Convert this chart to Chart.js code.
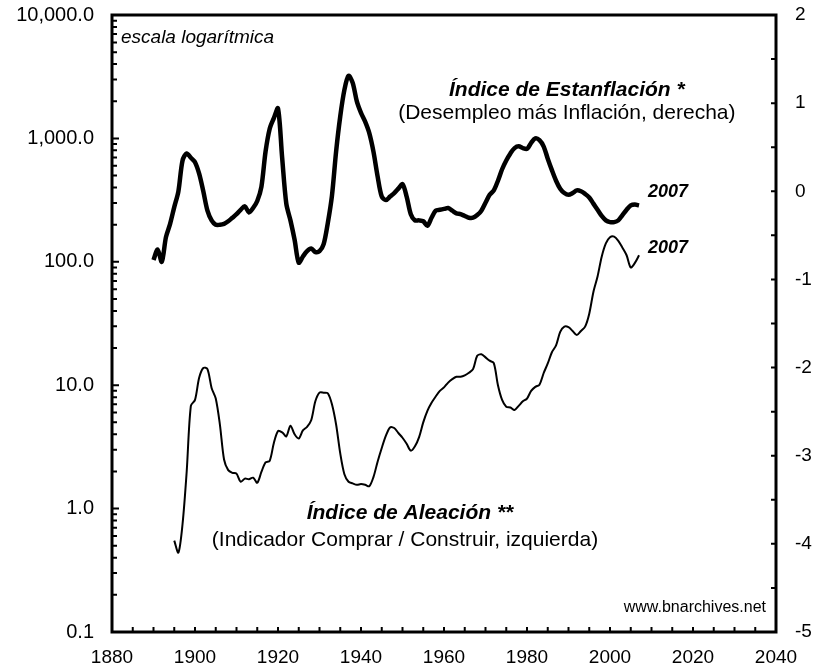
<!DOCTYPE html>
<html>
<head>
<meta charset="utf-8">
<script src="https://cdn.jsdelivr.net/npm/chart.js@4/dist/chart.umd.min.js"></script>
<style>
  body { margin: 0; background: #fff; }
  #caja { width: 816px; height: 670px; }
</style>
</head>
<body>
<div id="caja"><canvas id="myChart"></canvas></div>
<script>
const years = [
  1890,1891,1892,1893,1894,1895,1896,1897,1898,1899,
  1900,1901,1902,1903,1904,1905,1906,1907,1908,1909,
  1910,1911,1912,1913,1914,1915,1916,1917,1918,1919,
  1920,1921,1922,1923,1924,1925,1926,1927,1928,1929,
  1930,1931,1932,1933,1934,1935,1936,1937,1938,1939,
  1940,1941,1942,1943,1944,1945,1946,1947,1948,1949,
  1950,1951,1952,1953,1954,1955,1956,1957,1958,1959,
  1960,1961,1962,1963,1964,1965,1966,1967,1968,1969,
  1970,1971,1972,1973,1974,1975,1976,1977,1978,1979,
  1980,1981,1982,1983,1984,1985,1986,1987,1988,1989,
  1990,1991,1992,1993,1994,1995,1996,1997,1998,1999,
  2000,2001,2002,2003,2004,2005,2006,2007];

// Indice de Estanflacion (eje derecho)
const estanflacion = [
  -0.78,-0.66,-0.80,-0.52,-0.37,-0.18,0.00,0.35,0.43,0.38,
  0.33,0.20,0.00,-0.22,-0.33,-0.38,-0.38,-0.37,-0.34,-0.30,
  -0.26,-0.21,-0.17,-0.24,-0.19,-0.11,0.05,0.45,0.71,0.83,
  0.94,0.38,-0.14,-0.33,-0.55,-0.81,-0.74,-0.68,-0.65,-0.69,
  -0.68,-0.60,-0.36,-0.05,0.45,0.85,1.15,1.31,1.23,1.02,
  0.89,0.79,0.66,0.45,0.17,-0.06,-0.10,-0.06,-0.02,0.03,
  0.08,-0.06,-0.26,-0.33,-0.33,-0.34,-0.39,-0.30,-0.22,-0.21,
  -0.20,-0.19,-0.22,-0.25,-0.26,-0.28,-0.30,-0.30,-0.27,-0.22,
  -0.13,-0.04,0.01,0.12,0.25,0.35,0.43,0.49,0.51,0.49,
  0.48,0.55,0.60,0.58,0.51,0.37,0.24,0.12,0.03,-0.02,
  -0.04,-0.02,0.01,0.00,-0.03,-0.07,-0.14,-0.21,-0.28,-0.33,
  -0.35,-0.35,-0.33,-0.27,-0.21,-0.16,-0.15,-0.16];

// Indice de Aleacion (eje izquierdo, log)
const aleacion = [
  null,null,null,null,null,0.55,0.44,0.75,2.0,6.8,
  7.6,11.5,13.8,13.5,9.5,7.8,4.8,2.5,2.05,1.95,
  1.92,1.65,1.75,1.73,1.78,1.62,1.98,2.37,2.44,3.4,
  4.25,4.15,3.85,4.7,4.0,3.7,4.3,4.6,5.2,7.4,
  8.7,8.7,8.6,7.0,4.8,2.8,1.9,1.65,1.60,1.56,
  1.58,1.56,1.52,1.80,2.4,3.1,3.9,4.55,4.5,4.1,
  3.75,3.35,2.95,3.2,3.8,5.0,6.2,7.2,8.1,9.0,
  9.6,10.5,11.2,11.7,11.7,12.0,12.6,13.5,17.3,17.8,
  16.8,15.8,15.1,10.0,7.6,6.7,6.6,6.3,6.8,7.4,
  7.8,9.0,9.7,10.1,12.5,15.0,18.5,21.0,27.0,29.8,
  29.5,27.5,25.5,27.5,29.8,38,57,76,110,141,
  158,160,148,130,113,90,98,113];

const xLabels = [1880,1900,1920,1940,1960,1980,2000,2020,2040];
const leftLabels = [0.1,1,10,100,1000,10000];
const rightLabels = [-5,-4,-3,-2,-1,0,1,2];

const fuente = "'Liberation Sans', Arial, sans-serif";

// marco y marcas hacia dentro
const marcoPlugin = {
  id: 'marco',
  afterDatasetsDraw(chart) {
    const ctx = chart.ctx, a = chart.chartArea, s = chart.scales;
    ctx.save();
    ctx.strokeStyle = '#000';
    ctx.lineWidth = 2;
    ctx.beginPath();
    s.x.ticks.forEach(t => {
      const px = s.x.getPixelForValue(t.value);
      ctx.moveTo(px, a.bottom); ctx.lineTo(px, a.bottom - 5);
    });
    s.y.ticks.forEach(t => {
      const py = s.y.getPixelForValue(t.value);
      const len = leftLabels.includes(t.value) ? 7 : 5;
      ctx.moveTo(a.left, py); ctx.lineTo(a.left + len, py);
    });
    s.y1.ticks.forEach(t => {
      const py = s.y1.getPixelForValue(t.value);
      ctx.moveTo(a.right, py); ctx.lineTo(a.right - 5, py);
    });
    ctx.stroke();
    ctx.lineWidth = 3;
    ctx.strokeRect(a.left, a.top, a.right - a.left, a.bottom - a.top);

    // textos
    ctx.fillStyle = '#000';
    ctx.textBaseline = 'middle';
    ctx.textAlign = 'left';
    ctx.font = 'italic 19px ' + fuente;
    ctx.fillText('escala logarítmica', a.left + 9, a.top + 23);

    ctx.textAlign = 'center';
    ctx.font = 'bold italic 21px ' + fuente;
    ctx.fillText('Índice de Estanflación *', s.x.getPixelForValue(1989.6), s.y1.getPixelForValue(1.15));
    ctx.font = '21px ' + fuente;
    ctx.fillText('(Desempleo más Inflación, derecha)', s.x.getPixelForValue(1989.6), s.y1.getPixelForValue(0.89));

    ctx.font = 'bold italic 21px ' + fuente;
    ctx.fillText('Índice de Aleación **', s.x.getPixelForValue(1951.8), s.y.getPixelForValue(0.92));
    ctx.font = '21px ' + fuente;
    ctx.fillText('(Indicador Comprar / Construir, izquierda)', s.x.getPixelForValue(1950.6), s.y.getPixelForValue(0.557));

    const n = years.length - 1;
    ctx.textAlign = 'left';
    ctx.font = 'bold italic 18px ' + fuente;
    ctx.fillText('2007', s.x.getPixelForValue(years[n]) + 9, s.y1.getPixelForValue(estanflacion[n]) - 13);
    ctx.fillText('2007', s.x.getPixelForValue(years[n]) + 9, s.y.getPixelForValue(aleacion[n]) - 7);

    ctx.textAlign = 'right';
    ctx.font = '16px ' + fuente;
    ctx.fillText('www.bnarchives.net', a.right - 10, a.bottom - 24);
    ctx.restore();
  }
};

function sinRelleno(scale) {
  scale.paddingTop = 0; scale.paddingBottom = 0;
  scale.paddingLeft = 0; scale.paddingRight = 0;
}

const ctx = document.getElementById('myChart').getContext('2d');
const myChart = new Chart(ctx, {
  type: 'line',
  data: {
    datasets: [{
      label: 'Índice de Estanflación',
      data: years.map((y, i) => ({x: y, y: estanflacion[i]})),
      yAxisID: 'y1',
      borderColor: '#000',
      borderWidth: 4.5,
      pointRadius: 0,
      tension: 0.3
    }, {
      label: 'Índice de Aleación',
      data: years.map((y, i) => ({x: y, y: aleacion[i]})),
      yAxisID: 'y',
      borderColor: '#000',
      borderWidth: 2,
      pointRadius: 0,
      tension: 0.3
    }]
  },
  options: {
    responsive: true,
    maintainAspectRatio: false,
    animation: false,
    layout: { padding: { top: 15, left: 0, right: 0, bottom: 0 } },
    plugins: { legend: { display: false }, tooltip: { enabled: false } },
    scales: {
      x: {
        type: 'linear',
        min: 1880, max: 2040,
        grid: { display: false, drawTicks: false },
        border: { display: false },
        afterBuildTicks(scale) {
          const t = [];
          for (let v = 1880; v <= 2040; v += 5) t.push({value: v});
          scale.ticks = t;
        },
        afterFit(scale) { scale.height = 38; sinRelleno(scale); },
        ticks: {
          autoSkip: false, maxRotation: 0, padding: 14,
          color: '#000', font: { family: fuente, size: 19 },
          callback: v => xLabels.includes(v) ? String(v) : ''
        }
      },
      y: {
        type: 'logarithmic',
        position: 'left',
        min: 0.1, max: 10000,
        grid: { display: false, drawTicks: false },
        border: { display: false },
        afterBuildTicks(scale) {
          const t = [];
          leftLabels.forEach(p => {
            if (p === 10000) { t.push({value: p}); return; }
            for (let k = 1; k <= 9; k++) t.push({value: +(p * k).toPrecision(3)});
          });
          scale.ticks = t;
        },
        afterFit(scale) { scale.width = 112; sinRelleno(scale); },
        ticks: {
          autoSkip: false, padding: 18,
          color: '#000', font: { family: fuente, size: 20 },
          callback: v => leftLabels.includes(v)
            ? v.toLocaleString('en-US', {minimumFractionDigits: 1, maximumFractionDigits: 1}) : ''
        }
      },
      y1: {
        type: 'linear',
        position: 'right',
        min: -5, max: 2,
        grid: { display: false, drawTicks: false },
        border: { display: false },
        afterFit(scale) { scale.width = 40; sinRelleno(scale); },
        ticks: {
          stepSize: 0.5, autoSkip: false, padding: 19,
          color: '#000', font: { family: fuente, size: 19 },
          callback: v => rightLabels.includes(v) ? String(v) : ''
        }
      }
    }
  },
  plugins: [marcoPlugin]
});
</script>
</body>
</html>
